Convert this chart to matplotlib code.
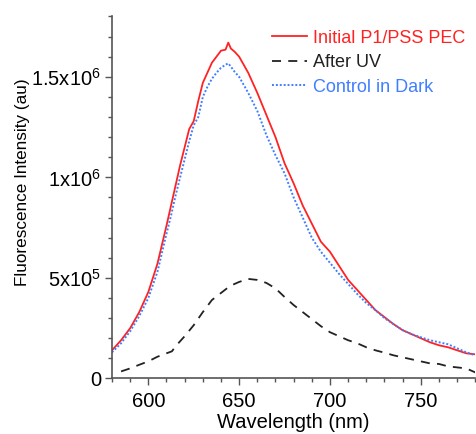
import numpy as np
import matplotlib
matplotlib.use("Agg")
import matplotlib.pyplot as plt
from matplotlib.ticker import MultipleLocator, FixedLocator

plt.rcParams["font.family"] = ["Liberation Sans", "DejaVu Sans"]
plt.rcParams["mathtext.fontset"] = "custom"
plt.rcParams["mathtext.rm"] = "Liberation Sans"
plt.rcParams["mathtext.default"] = "regular"

# wavelength grid (nm) and intensities (x1e6 au)
WL = [580, 585, 590, 595, 600, 605, 610, 612.5, 615, 617.5, 620, 622.5, 625,
      627.5, 630, 632.5, 635, 637.5, 640, 642.5, 644, 645.5, 647.5, 650, 655,
      660, 665, 670, 675, 680, 685, 690, 695, 700, 705, 710, 715, 720, 725,
      730, 735, 740, 745, 750, 755, 760, 765, 770, 775, 780]
INITIAL = [0.14, 0.19, 0.25, 0.33, 0.43, 0.57, 0.76, 0.86, 0.96, 1.06, 1.15,
           1.24, 1.28, 1.38, 1.47, 1.52, 1.57, 1.60, 1.63, 1.635, 1.67, 1.64,
           1.625, 1.60, 1.52, 1.42, 1.31, 1.20, 1.07, 0.97, 0.86, 0.77, 0.68,
           0.63, 0.56, 0.49, 0.44, 0.39, 0.34, 0.305, 0.27, 0.24, 0.22, 0.20,
           0.18, 0.165, 0.155, 0.14, 0.125, 0.12]
DARK = [0.13, 0.175, 0.235, 0.31, 0.40, 0.53, 0.72, 0.81, 0.91, 1.00, 1.09,
        1.18, 1.26, 1.30, 1.40, 1.45, 1.49, 1.52, 1.545, 1.56, 1.567, 1.55,
        1.525, 1.50, 1.42, 1.33, 1.21, 1.11, 1.02, 0.90, 0.80, 0.70, 0.63,
        0.575, 0.52, 0.47, 0.42, 0.375, 0.34, 0.30, 0.27, 0.24, 0.22, 0.205,
        0.19, 0.18, 0.17, 0.15, 0.13, 0.115]
WL_UV = [585, 590, 595, 600, 605, 610, 613, 615, 620, 625, 630, 635, 640, 645,
         650, 655, 660, 665, 670, 675, 680, 685, 690, 695, 700, 705, 710, 715,
         720, 725, 730, 735, 740, 745, 750, 755, 760, 765, 770, 775, 780]
AFTER_UV = [0.035, 0.05, 0.068, 0.085, 0.108, 0.125, 0.135, 0.16, 0.21, 0.265,
            0.33, 0.39, 0.425, 0.46, 0.48, 0.495, 0.49, 0.475, 0.448, 0.405,
            0.365, 0.33, 0.295, 0.26, 0.23, 0.21, 0.19, 0.175, 0.155, 0.14,
            0.128, 0.115, 0.105, 0.095, 0.085, 0.075, 0.072, 0.06, 0.055, 0.05,
            0.03]

YTICKS = [0, 5e5, 1e6, 1.5e6]
YTICKLABELS = ["0", "5x10$^5$", "1x10$^6$", "1.5x10$^6$"]

RED = "#ff2222"
BLACK = "#222222"
BLUE = "#3f7fff"
SPINE = "#555555"

fig = plt.figure(figsize=(4.76, 4.34), dpi=100)
ax = fig.add_axes([0.2353, 0.128, 0.7632, 0.834])

ax.plot(WL, np.array(INITIAL) * 1e6, color=RED, lw=1.3, label="Initial P1/PSS PEC")
ax.plot(WL_UV, np.array(AFTER_UV) * 1e6, color=BLACK, lw=1.3, ls=(0, (5, 4)), label="After UV")
ax.plot(WL, np.array(DARK) * 1e6, color=BLUE, lw=1.4, ls=(0, (1, 1)), label="Control in Dark")

ax.set_xlim(580, 780)
ax.set_ylim(0, 1.8e6)
ax.xaxis.set_major_locator(FixedLocator([600, 650, 700, 750]))
ax.xaxis.set_minor_locator(MultipleLocator(10))
ax.yaxis.set_major_locator(FixedLocator(YTICKS))
ax.set_yticklabels(YTICKLABELS)
ax.yaxis.set_minor_locator(MultipleLocator(1e5))

for s in ["top", "right"]:
    ax.spines[s].set_visible(False)
for s in ["left", "bottom"]:
    ax.spines[s].set_color(SPINE)
    ax.spines[s].set_linewidth(1.2)

ax.tick_params(which="major", direction="out", length=5, width=1, color=SPINE,
               labelsize=14.5, pad=3)
ax.tick_params(axis="x", which="major", pad=5)
ax.tick_params(which="minor", direction="out", length=3.2, width=1, color=SPINE)

ax.set_xlabel("Wavelength (nm)", fontsize=14.5, labelpad=1.5)
ax.set_ylabel("Fluorescence Intensity (au)", fontsize=12.3)
ax.yaxis.set_label_coords(-0.2257, 0.541)

leg = ax.legend(loc="upper right", bbox_to_anchor=(0.9716, 0.964), frameon=False,
                fontsize=13, handlelength=1.9, handletextpad=0.33,
                labelspacing=0.42, labelcolor="linecolor", borderaxespad=0,
                borderpad=0)

fig.savefig("out.png", dpi=100)
